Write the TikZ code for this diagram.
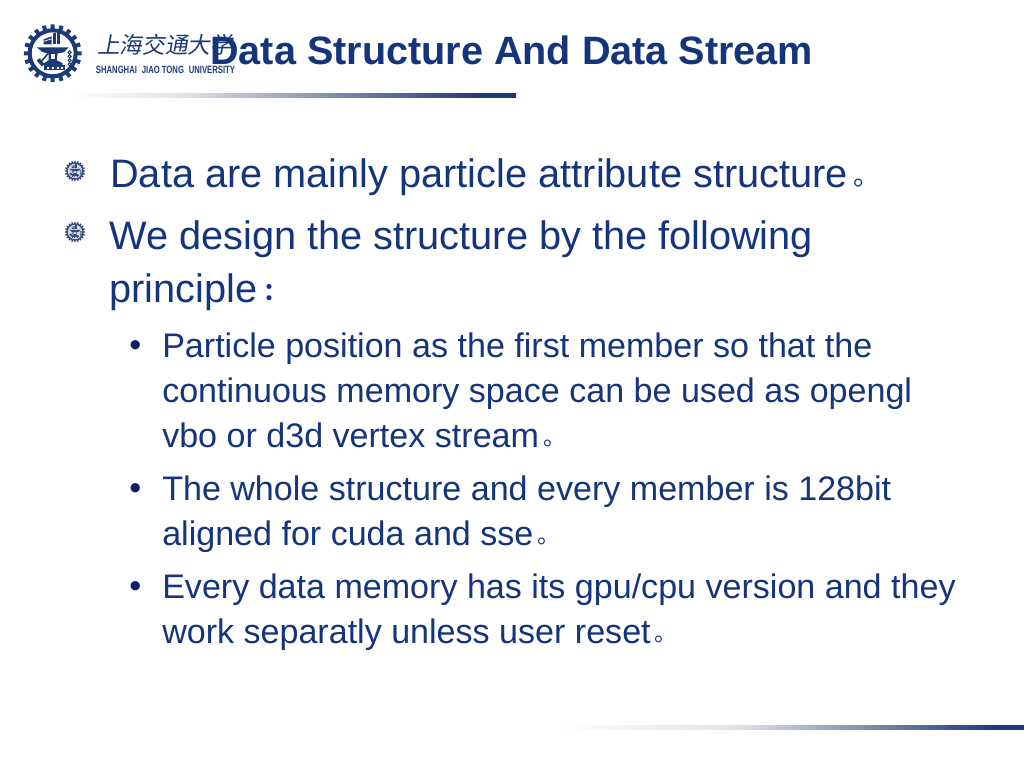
\documentclass[tikz,border=0pt]{standalone}
\usepackage{fontspec}
\setmainfont{Liberation Sans}
\newfontfamily\cjk{Noto Sans CJK SC}
\newfontfamily\cjkslant[FakeSlant=0.18]{Noto Sans CJK SC}
\definecolor{navy}{RGB}{20,52,124}
\definecolor{sjtu}{RGB}{28,58,120}
\definecolor{dotnavy}{RGB}{12,30,100}
\definecolor{fadegray}{RGB}{226,226,232}
\pgfdeclarehorizontalshading{topfade}{100bp}{color(0bp)=(white); color(25bp)=(white); color(37.5bp)=(fadegray); color(71bp)=(sjtu); color(100bp)=(sjtu)}
\pgfdeclarehorizontalshading{bottomfade}{100bp}{color(0bp)=(white); color(25bp)=(white); color(44bp)=(fadegray); color(72bp)=(sjtu); color(100bp)=(sjtu)}
\tikzset{
 title/.style={anchor=base west,inner sep=0pt,font=\fontsize{29.7pt}{31pt}\selectfont\bfseries,text=navy},
 lone/.style={anchor=base west,inner sep=0pt,font=\fontsize{29.8pt}{31pt}\selectfont,text=navy},
 ltwo/.style={anchor=base west,inner sep=0pt,font=\fontsize{25.55pt}{27pt}\selectfont,text=navy},
 dotb/.style={anchor=base west,inner sep=0pt,font=\fontsize{25.55pt}{27pt}\selectfont,text=dotnavy},
 logocn/.style={anchor=center,inner sep=0pt,font=\fontsize{17pt}{18pt}\cjkslant,text=sjtu},
 logoen/.style={anchor=base,inner sep=0pt,font=\fontsize{7.9pt}{8pt}\selectfont\bfseries,text=sjtu},
}
\newcommand{\dotA}{{\hspace{4pt}\fontsize{20pt}{20pt}\cjk\raisebox{1pt}{。}}}
\newcommand{\dotB}{{\hspace{3pt}\fontsize{17pt}{17pt}\cjk\raisebox{1pt}{。}}}
% #1 x, #2 y, #3 scale (1 = full logo, 29 px radius), #4 colour, #5 interior colour
\newcommand{\sjtulogo}[5]{%
 \begin{scope}[shift={(#1,#2)},scale=#3]
  \foreach \a in {0,18,...,342}
   \fill[#4] (\a-5:22) -- (\a-4:29) -- (\a+4:29) -- (\a+5:22) -- cycle;
  \fill[#5] (0,0) circle[radius=23];
  \draw[#4,line width=3pt*#3] (0,0) circle[radius=23];
  % books
  \fill[#4] (-9,-9) -- (-9,-14) -- (-1,-17) -- (-1,-9) -- cycle;
  \fill[#4] (0,-20) rectangle (3,-9);
  \fill[#4] (4,-20) rectangle (7,-9);
  \draw[#5,line width=0.5pt*#3] (-9,-12) -- (-1,-14.5);
  % anvil
  \fill[#4] (-16,-6) -- (16,-6) -- (11,-1) -- (5,0) -- (4,7) -- (10,10) -- (10,12) -- (-9,12) -- (-9,10) -- (-4,7) -- (-4,0) -- (-10,-1) -- cycle;
  \fill[#5] (-2,1) -- (2,1) -- (2,6) -- (-2,6) -- cycle;
  % hammer
  \draw[#4,line width=1.2pt*#3] (-1,-4) -- (-13,10);
  \fill[#4] (-16,7) -- (-13,5) -- (-8,11) -- (-11,13) -- cycle;
  % chain
  \foreach \yy in {-1,3,7,11}
   \draw[#4,line width=0.7pt*#3] (17,\yy) circle[radius=1.6];
  % plate
  \fill[#4] (-9,12) rectangle (12,17);
  \foreach \xx in {-6,-1,4,8}
   \fill[#5] (\xx,13.2) rectangle (\xx+2.2,15.8);
 \end{scope}}
\begin{document}
\begin{tikzpicture}[x=0.75pt,y=-0.75pt]
\useasboundingbox (0,0) rectangle (1024,768);
\fill[white] (0,0) rectangle (1024,768);
% rules
\shade[shading=topfade] (70,93) rectangle (516,97);
\shade[shading=bottomfade] (560,725) rectangle (1024,729);
% logo
\sjtulogo{52.7}{53.3}{1}{sjtu}{white}
\node[logocn] (cn) at (165,45) {上海交通大学};
\node[logoen] (en) at (165.5,73.5) {\scalebox{0.73}[1]{SHANGHAI\hspace{5pt}JIAO TONG\hspace{5pt}UNIVERSITY}};
% title
\node[title] (t) at (210,64) {Data Structure And Data Stream};
% bullets
\sjtulogo{75}{171}{0.35}{sjtu!75!gray}{sjtu!20}
\sjtulogo{75}{232}{0.35}{sjtu!75!gray}{sjtu!20}
\node[lone] (a) at (110,187) {Data are mainly particle attribute structure\dotA};
\node[lone] (b1) at (109,249) {We design the structure by the following};
\node[lone] (b2) at (109,302) {principle{\hspace{5pt}\fontsize{18pt}{18pt}\cjk\bfseries\raisebox{0.8pt}{：}}};
\foreach \n/\y in {d1/356,d2/499,d3/597}
  \node[dotb] (\n) at (129,\y) {•};
\node[ltwo] (c1) at (162,357) {Particle position as the first member so that the};
\node[ltwo] (c2) at (162,402) {continuous memory space can be used as opengl};
\node[ltwo] (c3) at (162,447) {vbo or d3d vertex stream\dotB};
\node[ltwo] (e1) at (162,500) {The whole structure and every member is 128bit};
\node[ltwo] (e2) at (162,545) {aligned for cuda and sse\dotB};
\node[ltwo] (f1) at (162,598) {Every data memory has its gpu/cpu version and they};
\node[ltwo] (f2) at (162,643) {work separatly unless user reset\dotB};
\end{tikzpicture}
\end{document}
